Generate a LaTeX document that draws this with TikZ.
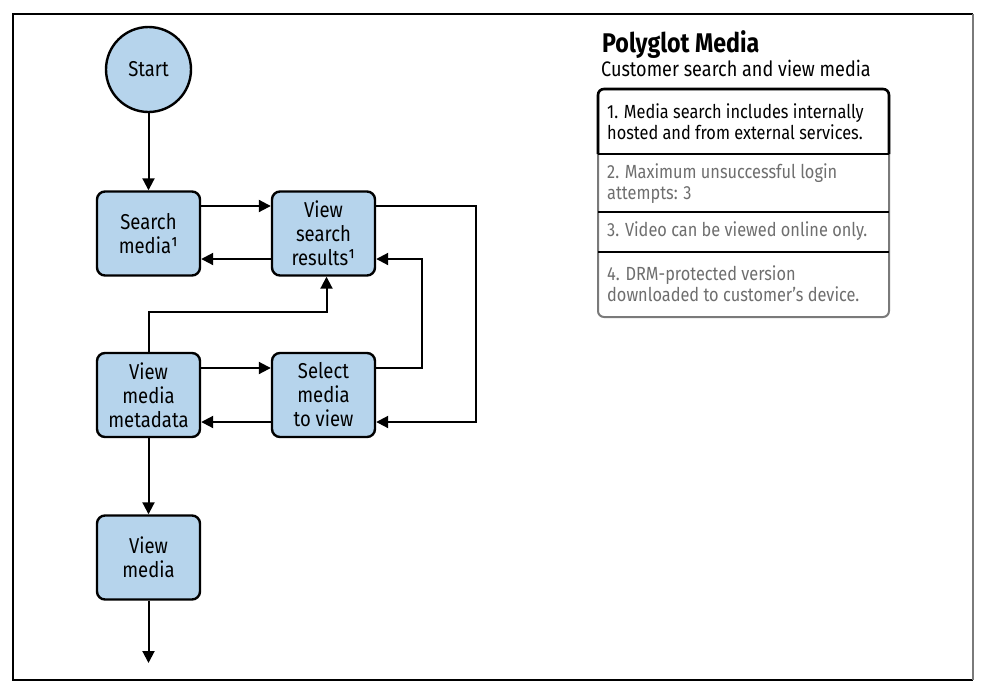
\documentclass[tikz,border=0pt]{standalone}
\usepackage{fontspec}
\setmainfont[FakeStretch=0.86]{Fira Sans}
\usetikzlibrary{arrows.meta}
\definecolor{boxfill}{HTML}{B6D4EC}
\definecolor{rowgray}{HTML}{6E6E6E}
\definecolor{framegray}{HTML}{7A7A7A}
\begin{document}
\begin{tikzpicture}[x=1pt,y=-1pt,
  stepbox/.style={draw=black, line width=2.4pt, fill=boxfill, rounded corners=8pt,
    minimum width=103pt, minimum height=84pt, inner sep=0pt, align=center,
    font=\fontsize{21.5}{24}\selectfont},
  startnode/.style={circle, draw=black, line width=2.4pt, fill=boxfill,
    minimum size=85pt, inner sep=0pt, font=\fontsize{21.5}{24}\selectfont},
  arr/.style={line width=2pt, -{Triangle[length=12pt,width=12pt]}},
  rowtext/.style={anchor=west, align=left, inner sep=0pt, font=\fontsize{19}{21}\selectfont}
]
\useasboundingbox (0,0) rectangle (986,691);
\draw[line width=1.5pt, black] (973,14) -- (13,14) -- (13,680) -- (973,680);
\draw[line width=1.5pt, framegray] (973,14) -- (973,680);

\node[startnode] (start) at (148.5,69.5) {Start};
\node[stepbox] (sm) at (148.5,233.5) {Search\\media¹};
\node[stepbox] (vsr) at (323.5,233.5) {View\\search\\results¹};
\node[stepbox] (vmm) at (148.5,395) {View\\media\\metadata};
\node[stepbox] (smv) at (323.5,395) {Select\\media\\to view};
\node[stepbox] (vm) at (148.5,557.5) {View\\media};
\coordinate (end) at (148.5,663);

\draw[arr] (start) -- (sm);
\draw[arr] ([yshift=27.5pt]sm.east) -- ([yshift=27.5pt]vsr.west);
\draw[arr] ([yshift=-25.5pt]vsr.west) -- ([yshift=-25.5pt]sm.east);
\draw[arr] ([yshift=27.5pt]vsr.east) -- ++(100,0) |- ([yshift=-27pt]smv.east);
\draw[arr] ([yshift=27pt]smv.east) -- ++(46,0) |- ([yshift=-25.5pt]vsr.east);
\draw[arr] (vmm.north) -- ++(0,-40) -| ([xshift=3pt]vsr.south);
\draw[arr] ([yshift=27pt]vmm.east) -- ([yshift=27pt]smv.west);
\draw[arr] ([yshift=-27pt]smv.west) -- ([yshift=-27pt]vmm.east);
\draw[arr] (vmm) -- (vm);
\draw[arr] (vm) -- (end);

% legend
\node[anchor=base west, inner sep=0pt, font=\fontsize{27}{29}\selectfont\bfseries] (title) at (602,52) {Polyglot Media};
\node[anchor=base west, inner sep=0pt, font=\fontsize{21}{22}\selectfont] (subtitle) at (601,76) {Customer search and view media};

\draw[framegray, line width=2pt, rounded corners=6pt] (598,89) rectangle (889,317);
\draw[black, line width=1.8pt] (598,212) -- (889,212);
\draw[black, line width=1.8pt] (598,252) -- (889,252);
\draw[black, line width=2.6pt, rounded corners=6pt] (598,154) -- (598,89) -- (889,89) -- (889,154);
\draw[black, line width=2.6pt] (598,154) -- (889,154);

\node[rowtext] (r1) at (607,121.5) {1. Media search includes internally\\hosted and from external services.};
\node[rowtext, text=rowgray] (r2) at (607,184) {2. Maximum unsuccessful login\\attempts: 3};
\node[rowtext, text=rowgray] (r3) at (607,231) {3. Video can be viewed online only.};
\node[rowtext, text=rowgray] (r4) at (607,283.5) {4. DRM-protected version\\downloaded to customer’s device.};
\end{tikzpicture}
\end{document}
